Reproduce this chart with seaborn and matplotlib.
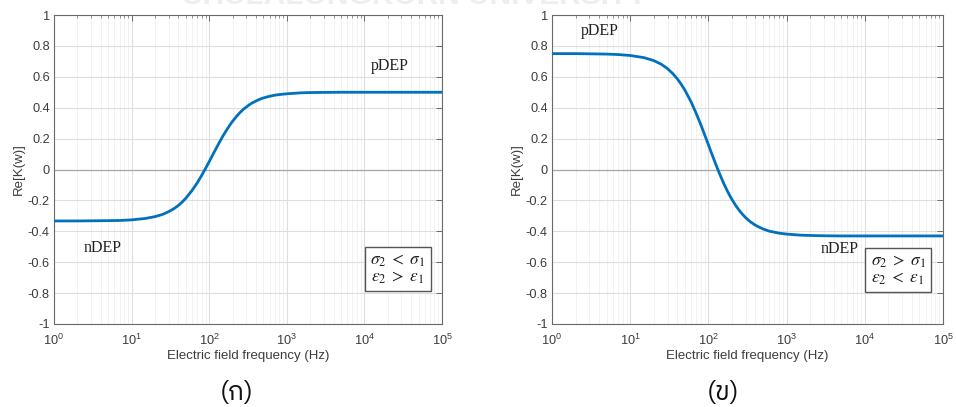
import numpy as np
import pandas as pd
import matplotlib
matplotlib.use("Agg")
import matplotlib.pyplot as plt
import seaborn as sns
from matplotlib import font_manager, ft2font
from matplotlib.ticker import LogLocator, FixedLocator, FuncFormatter, NullFormatter

# ---------------- data ----------------
freq_a = [1, 2, 5, 7, 10, 15, 20, 25, 30, 35, 40, 45, 50, 60, 70, 80, 90, 100, 110,
          120, 135, 150, 160, 175, 190, 200, 225, 250, 275, 300, 325, 350, 400, 450,
          500, 550, 600, 700, 800, 1000, 1500, 2000, 3000, 5000, 100000]
rek_a = [-0.333, -0.333, -0.331, -0.330, -0.326, -0.317, -0.305, -0.291, -0.273,
         -0.254, -0.233, -0.210, -0.186, -0.136, -0.087, -0.038, 0.008, 0.051, 0.091,
         0.127, 0.175, 0.216, 0.239, 0.270, 0.297, 0.312, 0.344, 0.369, 0.389, 0.404,
         0.417, 0.428, 0.443, 0.455, 0.463, 0.469, 0.474, 0.481, 0.485, 0.490, 0.496,
         0.498, 0.499, 0.500, 0.500]

freq_b = [1, 2, 5, 7, 10, 15, 20, 25, 30, 35, 40, 45, 50, 60, 70, 80, 90, 100, 110,
          120, 135, 150, 160, 175, 190, 200, 225, 250, 275, 300, 325, 350, 400, 450,
          500, 550, 600, 700, 800, 1000, 1500, 2000, 3000, 5000, 100000]
rek_b = [0.750, 0.750, 0.747, 0.744, 0.738, 0.724, 0.705, 0.681, 0.653, 0.621,
         0.587, 0.551, 0.514, 0.438, 0.362, 0.290, 0.222, 0.160, 0.104, 0.054,
         -0.012, -0.067, -0.099, -0.140, -0.174, -0.194, -0.235, -0.267, -0.292,
         -0.312, -0.328, -0.341, -0.361, -0.374, -0.385, -0.392, -0.399, -0.406,
         -0.412, -0.418, -0.425, -0.427, -0.429, -0.430, -0.430]

y_ticks = [-1, -0.8, -0.6, -0.4, -0.2, 0, 0.2, 0.4, 0.6, 0.8, 1]
x_label = "Electric field frequency (Hz)"
y_label = "Re[K(w)]"
panel_labels = ["(ก)", "(ข)"]
box_a = r"$\sigma_2\;<\;\sigma_1$" + "\n" + r"$\varepsilon_2\;>\;\varepsilon_1$"
box_b = r"$\sigma_2\;>\;\sigma_1$" + "\n" + r"$\varepsilon_2\;<\;\varepsilon_1$"
watermark = "CHULALONGKORN UNIVERSITY"

# ---------------- style ----------------
sns.set_theme(style="white")
plt.rcParams["font.family"] = ["Liberation Sans", "DejaVu Sans"]
plt.rcParams["axes.unicode_minus"] = False


def find_thai_families():
    good, other = [], []
    for fe in font_manager.fontManager.ttflist:
        try:
            cm = ft2font.FT2Font(fe.fname).get_charmap()
        except Exception:
            continue
        if 0x0E01 in cm and 0x0E02 in cm:
            if "Thai" in fe.name and "Looped" not in fe.name:
                good.append(fe.name)
            else:
                other.append(fe.name)
    fams = []
    for n in good + other:
        if n not in fams:
            fams.append(n)
    return fams


thai_fams = find_thai_families()
thai_family = thai_fams[:1] + ["DejaVu Sans"]

BLUE = "#0072BD"
TXT = "#3c3c3c"
SPINE = "#6a6a6a"

fig = plt.figure(figsize=(9.56, 4.07), dpi=100)
W, H = 956.0, 407.0
ax1 = fig.add_axes([54 / W, 1 - 324 / H, 388 / W, 309 / H])
ax2 = fig.add_axes([552 / W, 1 - 324 / H, 391 / W, 309 / H])

df_a = pd.DataFrame({"freq": freq_a, "rek": rek_a})
df_b = pd.DataFrame({"freq": freq_b, "rek": rek_b})

for ax, df in ((ax1, df_a), (ax2, df_b)):
    ax.set_xscale("log")
    sns.lineplot(data=df, x="freq", y="rek", ax=ax, color=BLUE, linewidth=2.0,
                 zorder=5)
    ax.set_xlim(1, 1e5)
    ax.set_ylim(-1, 1)
    ax.yaxis.set_major_locator(FixedLocator(y_ticks))
    ax.yaxis.set_major_formatter(FuncFormatter(lambda v, p: "%g" % round(v, 2)))
    ax.xaxis.set_major_locator(LogLocator(base=10, numticks=10))
    ax.xaxis.set_minor_locator(LogLocator(base=10, subs=np.arange(2, 10), numticks=20))
    ax.xaxis.set_minor_formatter(NullFormatter())
    ax.set_axisbelow(True)
    ax.grid(which="major", axis="both", color="#dedede", linewidth=0.8)
    ax.grid(which="minor", axis="x", color="#f0f0f0", linewidth=0.6)
    ax.axhline(0, color="#a8a8a8", linewidth=0.9, zorder=2)
    ax.tick_params(which="both", direction="in", top=True, right=True,
                   colors=SPINE, labelcolor=TXT, labelsize=9.2)
    ax.tick_params(axis="x", which="major", length=4, width=0.7, pad=6)
    ax.tick_params(axis="y", which="major", length=4, width=0.7, pad=3)
    ax.tick_params(which="minor", length=2, width=0.5)
    for s in ax.spines.values():
        s.set_color(SPINE)
        s.set_linewidth(0.8)
    ax.set_xlabel(x_label, fontsize=9.5, color=TXT, labelpad=2)
    ax.set_ylabel(y_label, fontsize=9.5, color=TXT, labelpad=2)

serif = ["Liberation Serif", "DejaVu Serif"]
# annotations, left panel
ax1.text(2.15e4, 0.67, "pDEP", family=serif, fontsize=11.5,
         color="#222222", ha="center", va="center")
ax1.text(4.2, -0.508, "nDEP", family=serif, fontsize=11.5,
         color="#222222", ha="center", va="center")
ax1.text(2.7e4, -0.645, box_a, math_fontfamily="stix", fontsize=12.5, color="#222222",
         ha="center", va="center", linespacing=1.05,
         bbox=dict(boxstyle="square,pad=0.3", fc="white", ec="#555555", lw=1.0),
         zorder=6)

# annotations, right panel
ax2.text(4.1, 0.896, "pDEP", family=serif, fontsize=11.5,
         color="#222222", ha="center", va="center")
ax2.text(4.8e3, -0.515, "nDEP", family=serif, fontsize=11.5,
         color="#222222", ha="center", va="center")
ax2.text(2.66e4, -0.652, box_b, math_fontfamily="stix", fontsize=12.5, color="#222222",
         ha="center", va="center", linespacing=1.05,
         bbox=dict(boxstyle="square,pad=0.3", fc="white", ec="#555555", lw=1.0),
         zorder=6)

# panel captions (Thai)
fig.text(237 / W, 1 - 392 / H, panel_labels[0], family=thai_family, fontsize=19,
         color="#111111", ha="center", va="center")
fig.text(723 / W, 1 - 392 / H, panel_labels[1], family=thai_family, fontsize=19,
         color="#111111", ha="center", va="center")

# faint watermark cut by the top edge (as in the reference)
fig.text(414 / W, 1 - 4 / H, watermark, fontsize=21.5, fontweight="bold",
         color="#eeeeee", ha="center", va="baseline", zorder=0)

fig.savefig("out.png", dpi=100, facecolor="white")
